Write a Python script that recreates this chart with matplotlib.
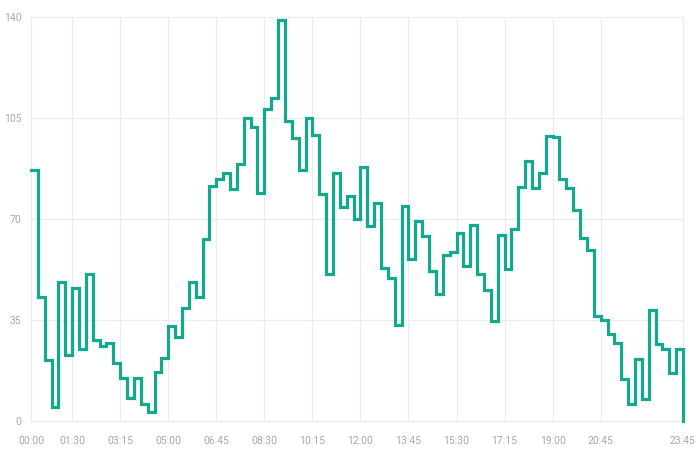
import numpy as np
import matplotlib.pyplot as plt

# 15-minute slots over one day
times = [f"{h:02d}:{m:02d}" for h in range(24) for m in (0, 15, 30, 45)]

values = [
    87, 43, 21, 5, 48, 23, 46, 25, 51, 28, 26, 27, 20, 15, 8, 15,
    6, 3, 17, 22, 33, 29, 39, 48, 43, 63, 81.5, 84, 86, 80.5, 89, 105,
    102, 79, 108, 112, 139, 104, 98, 87, 105, 99, 78.5, 51, 86, 74, 78, 70,
    88, 67.5, 75.5, 53, 49.5, 33.3, 74.5, 56, 69.3, 64, 52, 44, 57.4, 58.4,
    65, 53.7, 68, 51, 45.4, 34.5, 64.5, 52.6, 66.5, 81, 90, 80.6, 85.8, 98.7,
    98.5, 84, 80.6, 73, 63.3, 59.4, 36.4, 35, 30.2, 27, 14.6, 6, 21.5, 7.5,
    38.5, 26.6, 25, 16.5, 25, 0,
]

label_idx = [0, 6, 13, 20, 27, 34, 41, 48, 55, 62, 69, 76, 83, 95]
y_ticks = [0, 35, 70, 105, 140]

plt.rcParams['font.family'] = ['Roboto', 'DejaVu Sans']

fig = plt.figure(figsize=(7, 4.54), dpi=100)
ax = fig.add_axes([31 / 700, 33 / 454, 652 / 700, 404 / 454])

x = np.arange(len(values))
ax.plot(x, values, drawstyle='steps-post', color='#14a98c', lw=2.3,
        solid_joinstyle='miter', clip_on=False, zorder=3)

ax.set_xlim(0, len(values) - 1)
ax.set_ylim(0, 140)
ax.set_xticks(label_idx)
ax.set_xticklabels([times[i] for i in label_idx])
ax.set_yticks(y_ticks)

ax.grid(True, color='#ececec', lw=0.8)
for s in ax.spines.values():
    s.set_color('#ececec')
    s.set_linewidth(0.8)
ax.tick_params(length=0, labelsize=7.5, labelcolor='#a8a8a8')
ax.tick_params(axis='x', pad=11)
ax.tick_params(axis='y', pad=7)

fig.savefig('out.png', dpi=100)
